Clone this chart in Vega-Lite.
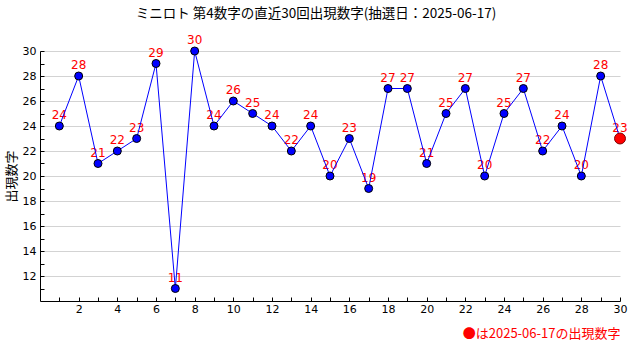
{
  "$schema": "https://vega.github.io/schema/vega-lite/v6.json",
  "width": 580,
  "height": 250,
  "autosize": {"type": "none"},
  "padding": {"left": 40, "top": 51, "right": 20, "bottom": 59},
  "background": "white",
  "title": {
    "text": "ミニロト 第4数字の直近30回出現数字(抽選日：2025-06-17)",
    "font": "Noto Sans CJK JP",
    "fontSize": 13.5,
    "fontWeight": "normal",
    "color": "black",
    "offset": 14,
    "dx": -14
  },
  "config": {"view": {"stroke": null}},
  "data": {
    "values": [
      {"n": 1, "value": 24}, {"n": 2, "value": 28}, {"n": 3, "value": 21}, {"n": 4, "value": 22},
      {"n": 5, "value": 23}, {"n": 6, "value": 29}, {"n": 7, "value": 11}, {"n": 8, "value": 30},
      {"n": 9, "value": 24}, {"n": 10, "value": 26}, {"n": 11, "value": 25}, {"n": 12, "value": 24},
      {"n": 13, "value": 22}, {"n": 14, "value": 24}, {"n": 15, "value": 20}, {"n": 16, "value": 23},
      {"n": 17, "value": 19}, {"n": 18, "value": 27}, {"n": 19, "value": 27}, {"n": 20, "value": 21},
      {"n": 21, "value": 25}, {"n": 22, "value": 27}, {"n": 23, "value": 20}, {"n": 24, "value": 25},
      {"n": 25, "value": 27}, {"n": 26, "value": 22}, {"n": 27, "value": 24}, {"n": 28, "value": 20},
      {"n": 29, "value": 28}, {"n": 30, "value": 23}
    ]
  },
  "encoding": {
    "x": {
      "field": "n",
      "type": "quantitative",
      "scale": {"domain": [0, 30], "nice": false, "zero": false},
      "axis": {
        "values": [1,2,3,4,5,6,7,8,9,10,11,12,13,14,15,16,17,18,19,20,21,22,23,24,25,26,27,28,29,30],
        "labelExpr": "datum.value % 2 == 0 ? datum.label : ''",
        "grid": false,
        "domainColor": "black",
        "tickColor": "black",
        "tickSize": -4,
        "labelPadding": 6,
        "labelFont": "DejaVu Sans",
        "labelFontSize": 11,
        "labelColor": "black",
        "labelFlush": false,
        "labelOverlap": false,
        "title": "●は2025-06-17の出現数字",
        "titleFont": "Noto Sans CJK JP",
        "titleFontSize": 13,
        "titleFontWeight": "normal",
        "titleColor": "red",
        "titleAnchor": "end",
        "titlePadding": 13
      }
    },
    "y": {
      "field": "value",
      "type": "quantitative",
      "scale": {"domain": [10, 30], "nice": false, "zero": false},
      "axis": {
        "values": [11,12,13,14,15,16,17,18,19,20,21,22,23,24,25,26,27,28,29,30],
        "labelExpr": "datum.value % 2 == 0 ? datum.label : ''",
        "grid": true,
        "gridColor": "#d3d3d3",
        "gridOpacity": {"condition": {"test": "datum.value % 2 == 1", "value": 0}, "value": 1},
        "domainColor": "black",
        "tickColor": "black",
        "tickSize": -4,
        "labelPadding": 8,
        "labelFont": "DejaVu Sans",
        "labelFontSize": 11,
        "labelColor": "black",
        "labelFlush": false,
        "labelOverlap": false,
        "title": "出現数字",
        "titleFont": "Noto Sans CJK JP",
        "titleFontSize": 13,
        "titleFontWeight": "normal",
        "titleColor": "black",
        "titlePadding": 4
      }
    }
  },
  "layer": [
    {
      "mark": {"type": "text", "color": "red", "font": "DejaVu Sans", "fontSize": 12, "dy": -11, "baseline": "middle"},
      "encoding": {"text": {"field": "value", "type": "quantitative"}}
    },
    {
      "mark": {"type": "line", "color": "blue", "strokeWidth": 1}
    },
    {
      "transform": [{"filter": "datum.n < 30"}],
      "mark": {"type": "point", "filled": true, "fill": "blue", "stroke": "black", "strokeWidth": 1, "size": 64, "opacity": 1}
    },
    {
      "transform": [{"filter": "datum.n == 30"}],
      "mark": {"type": "point", "filled": true, "fill": "red", "stroke": "#800000", "strokeWidth": 1, "size": 120, "opacity": 1}
    }
  ]
}
